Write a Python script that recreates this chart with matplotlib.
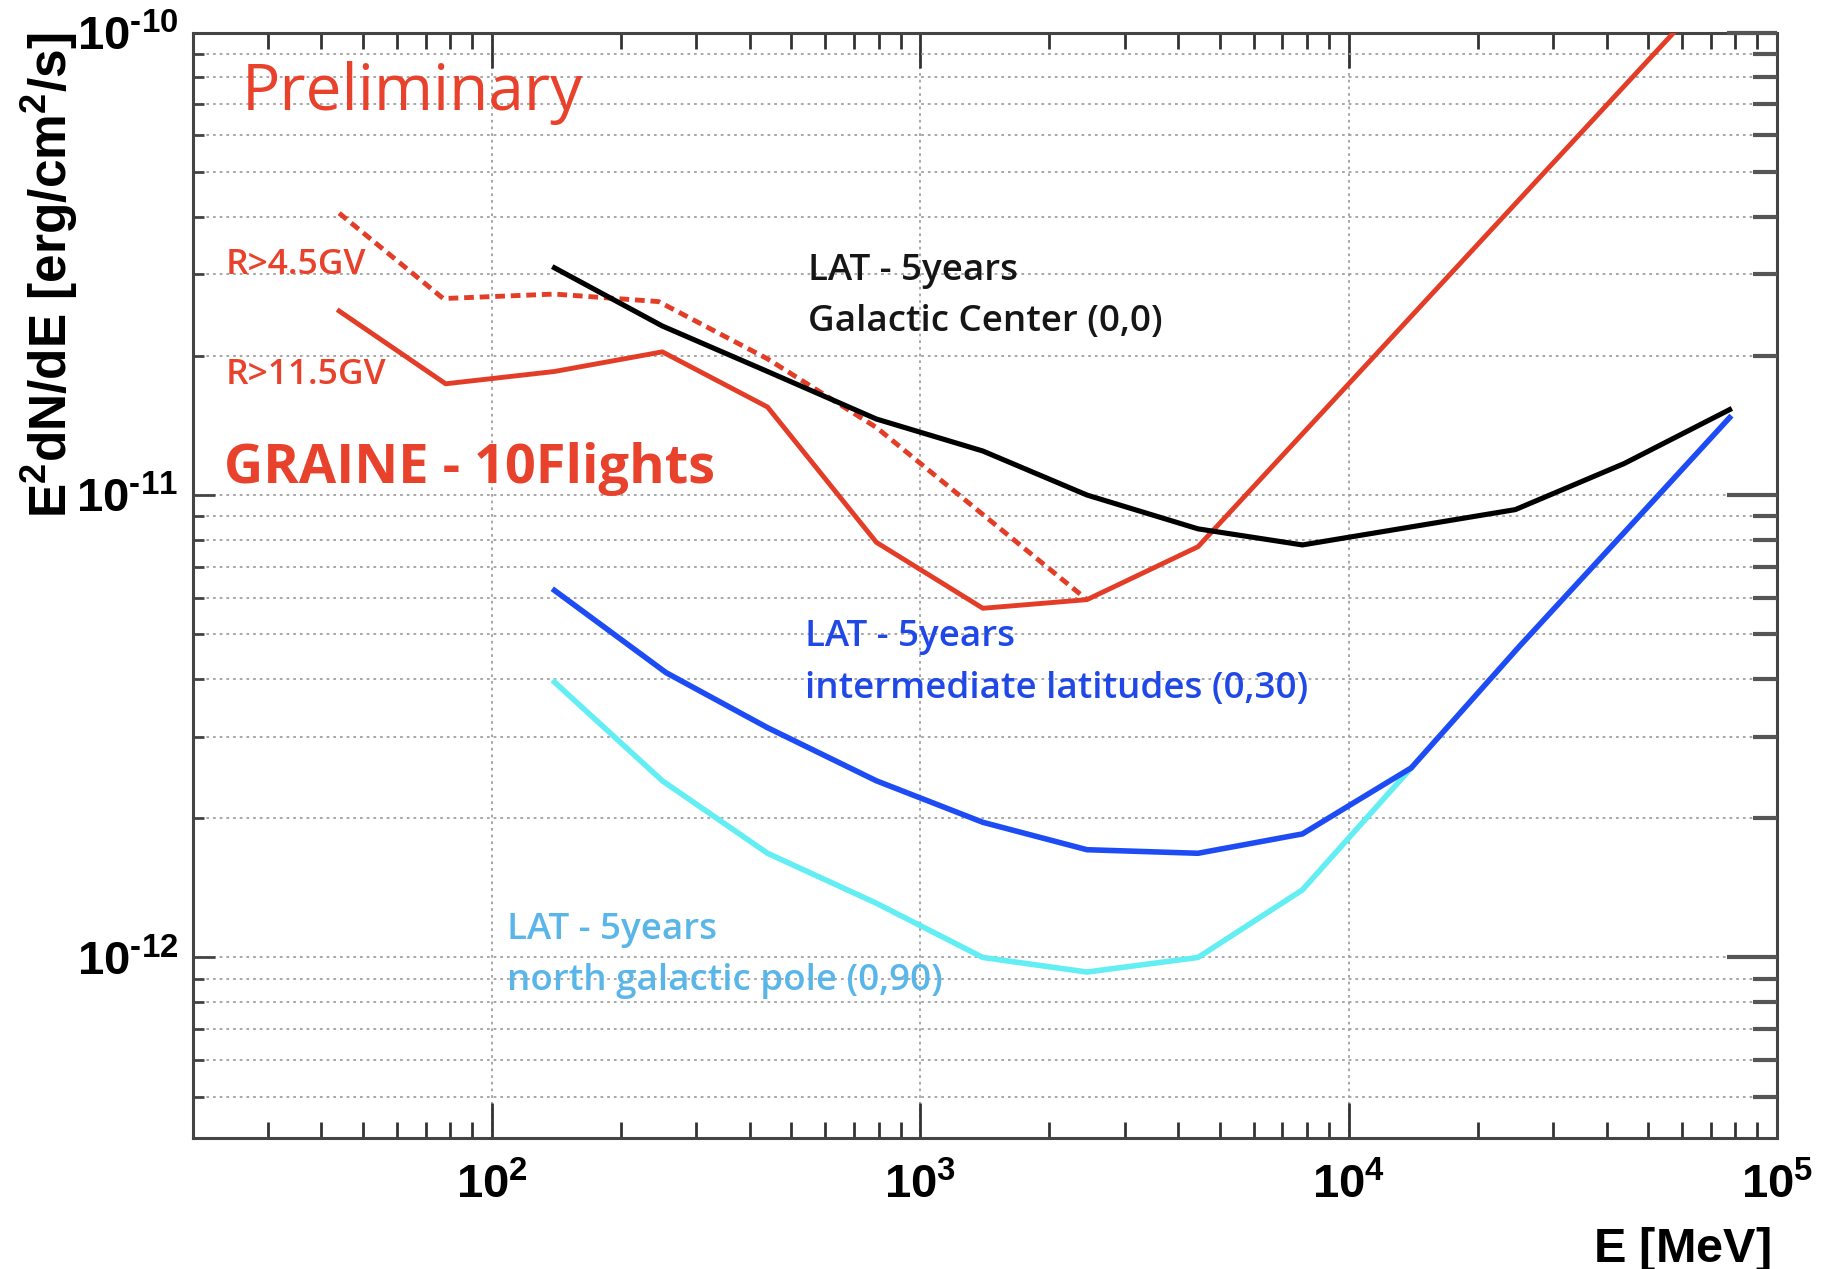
import numpy as np
import matplotlib
matplotlib.use("Agg")
import matplotlib.pyplot as plt
from matplotlib.ticker import LogLocator, FuncFormatter, NullFormatter

# ---------------- data ----------------
# LAT 5 years, Galactic Center (0,0)
E_gc = [140, 250, 440, 790, 1400, 2450, 4450, 7800, 24500, 44000, 77500]
F_gc = [3.10e-11, 2.32e-11, 1.85e-11, 1.46e-11, 1.245e-11, 1.0e-11, 8.45e-12,
        7.8e-12, 9.3e-12, 1.17e-11, 1.53e-11]

# LAT 5 years, intermediate latitudes (0,30)
E_mid = [140, 255, 440, 790, 1400, 2450, 4450, 7800, 14000, 25000, 44000, 77500]
F_mid = [6.22e-12, 4.13e-12, 3.14e-12, 2.41e-12, 1.96e-12, 1.71e-12, 1.68e-12,
         1.85e-12, 2.57e-12, 4.7e-12, 8.3e-12, 1.47e-11]

# LAT 5 years, north galactic pole (0,90)
E_ngp = [140, 250, 440, 790, 1400, 2450, 4450, 7800, 14000]
F_ngp = [3.94e-12, 2.41e-12, 1.68e-12, 1.31e-12, 1.0e-12, 9.3e-13, 1.0e-12,
         1.40e-12, 2.57e-12]

# GRAINE 10 flights, R>11.5GV (solid)
E_r115 = [44, 78, 140, 250, 440, 790, 1400, 2450, 4450, 57400]
F_r115 = [2.50e-11, 1.74e-11, 1.85e-11, 2.04e-11, 1.55e-11, 7.9e-12, 5.69e-12,
          5.94e-12, 7.73e-12, 1.0e-10]

# GRAINE 10 flights, R>4.5GV (dashed)
E_r45 = [44, 77, 140, 245, 440, 790, 2450]
F_r45 = [4.07e-11, 2.66e-11, 2.72e-11, 2.62e-11, 1.97e-11, 1.40e-11, 5.94e-12]

x_limits = [20.1, 1e5]
y_limits = [4.07e-13, 1e-10]

x_label = r"$\mathbf{E\ [MeV]}$"
y_label = r"$\mathbf{E^{2}dN/dE\ [erg/cm^{2}/s]}$"

# ---------------- style ----------------
plt.rcParams["mathtext.fontset"] = "custom"
plt.rcParams["mathtext.rm"] = "Liberation Sans"
plt.rcParams["mathtext.it"] = "Liberation Sans:italic"
plt.rcParams["mathtext.bf"] = "Liberation Sans:bold"
plt.rcParams["font.family"] = ["Liberation Sans", "DejaVu Sans"]

W, H = 1827, 1269
DPI = 100
fig = plt.figure(figsize=(W / DPI, H / DPI), dpi=DPI)

ax_l, ax_r, ax_t, ax_b = 193.4, 1777.0, 32.6, 1138.0
ax = fig.add_axes([ax_l / W, 1 - ax_b / H, (ax_r - ax_l) / W, (ax_b - ax_t) / H])
ax.set_xscale("log")
ax.set_yscale("log")
ax.set_xlim(*x_limits)
ax.set_ylim(*y_limits)

RED = "#e33d27"
BLACK = "#000000"
BLUE = "#1d4cf4"
CYAN = "#62eef2"

ax.plot(E_r45, F_r45, color=RED, lw=3.5, linestyle=(0, (2.0, 1.2)), zorder=3)
ax.plot(E_r115, F_r115, color=RED, lw=3.5, zorder=3)
ax.plot(E_gc, F_gc, color=BLACK, lw=3.7, zorder=4)
ax.plot(E_ngp, F_ngp, color=CYAN, lw=4.0, zorder=4)
ax.plot(E_mid, F_mid, color=BLUE, lw=4.0, zorder=5)

# grid (ROOT-like dotted)
ax.grid(which="major", axis="x", color="#a0a0a0", lw=1.3, linestyle=(0, (1.5, 2.2)))
ax.grid(which="both", axis="y", color="#a0a0a0", lw=1.3, linestyle=(0, (1.5, 2.2)))
ax.set_axisbelow(True)

ax.xaxis.set_major_locator(LogLocator(base=10, numticks=20))
ax.xaxis.set_minor_locator(LogLocator(base=10, subs=np.arange(2, 10), numticks=50))
ax.yaxis.set_major_locator(LogLocator(base=10, numticks=20))
ax.yaxis.set_minor_locator(LogLocator(base=10, subs=np.arange(2, 10), numticks=50))

def decade_label(v, _):
    e = int(round(np.log10(v)))
    s = str(abs(e))
    if e < 0:
        s = "\u2010" + s   # short hyphen, as ROOT draws it
    return r"$\mathbf{10^{%s}}$" % s

fmt = FuncFormatter(decade_label)
ax.xaxis.set_major_formatter(fmt)
ax.yaxis.set_major_formatter(fmt)
ax.xaxis.set_minor_formatter(NullFormatter())
ax.yaxis.set_minor_formatter(NullFormatter())

PX = 0.72  # points per pixel at 100 dpi
ax.tick_params(axis="x", which="major", direction="in", top=True, bottom=True,
               length=35 * PX, width=2.0, color="#333333", labelsize=34,
               pad=18)
ax.tick_params(axis="x", which="minor", direction="in", top=True, bottom=True,
               length=16 * PX, width=2.0, color="#333333")
ax.tick_params(axis="y", which="major", direction="in", left=True, right=False,
               length=22 * PX, width=2.0, color="#444444", labelsize=34,
               pad=11)
ax.tick_params(axis="y", which="minor", direction="in", left=True, right=False,
               length=11 * PX, width=2.0, color="#444444")

# right-hand ticks (longer, as in the reference)
ax2 = ax.twinx()
ax2.set_yscale("log")
ax2.set_ylim(*y_limits)
ax2.yaxis.set_major_locator(LogLocator(base=10, numticks=20))
ax2.yaxis.set_minor_locator(LogLocator(base=10, subs=np.arange(2, 10), numticks=50))
ax2.yaxis.set_major_formatter(NullFormatter())
ax2.yaxis.set_minor_formatter(NullFormatter())
ax2.tick_params(axis="y", which="major", direction="in", right=True, length=50 * PX,
                width=3.0, color="#555555")
ax2.tick_params(axis="y", which="minor", direction="in", right=True, length=24 * PX,
                width=3.0, color="#555555")
for s in ax2.spines.values():
    s.set_visible(False)

for side in ("left", "right"):
    ax.spines[side].set_color("#444444")
    ax.spines[side].set_linewidth(2.2)
for side in ("top", "bottom"):
    ax.spines[side].set_color("#444444")
    ax.spines[side].set_linewidth(2.2)
    ax.spines[side].set_linestyle((0, (2, 1)))

# axis titles (ROOT style: aligned to the axis end)
fig.text(1771 / W, 1 - 1262 / H, x_label, ha="right", va="baseline", fontsize=35)
fig.text(19 / W, 1 - 33 / H, y_label, rotation=90, ha="left", va="top", fontsize=37)

# annotations
ANN = ["Open Sans", "Lato", "DejaVu Sans"]
def ptext(x, y, s, color, size, weight="normal"):
    fig.text(x / W, 1 - y / H, s, color=color, fontsize=size, fontweight=weight,
             family=ANN, ha="left", va="baseline")

RED_T = "#e8412c"
ptext(242, 110, "Preliminary", RED_T, 46)
ptext(226, 274, "R>4.5GV", RED_T, 25.5, "semibold")
ptext(226, 384, "R>11.5GV", RED_T, 25.5, "semibold")
ptext(224, 483, "GRAINE - 10Flights", RED_T, 39, "bold")
ptext(808, 280, "LAT - 5years", "#161616", 26.5, "semibold")
ptext(808, 331, "Galactic Center (0,0)", "#161616", 26.5, "semibold")
ptext(805, 646, "LAT - 5years", "#2048e6", 26.5, "semibold")
ptext(805, 698, "intermediate latitudes (0,30)", "#2048e6", 26.5, "semibold")
ptext(507, 939, "LAT - 5years", "#5ab6e8", 26.5, "semibold")
ptext(507, 990, "north galactic pole (0,90)", "#5ab6e8", 26.5, "semibold")

fig.savefig("out.png", dpi=DPI)
